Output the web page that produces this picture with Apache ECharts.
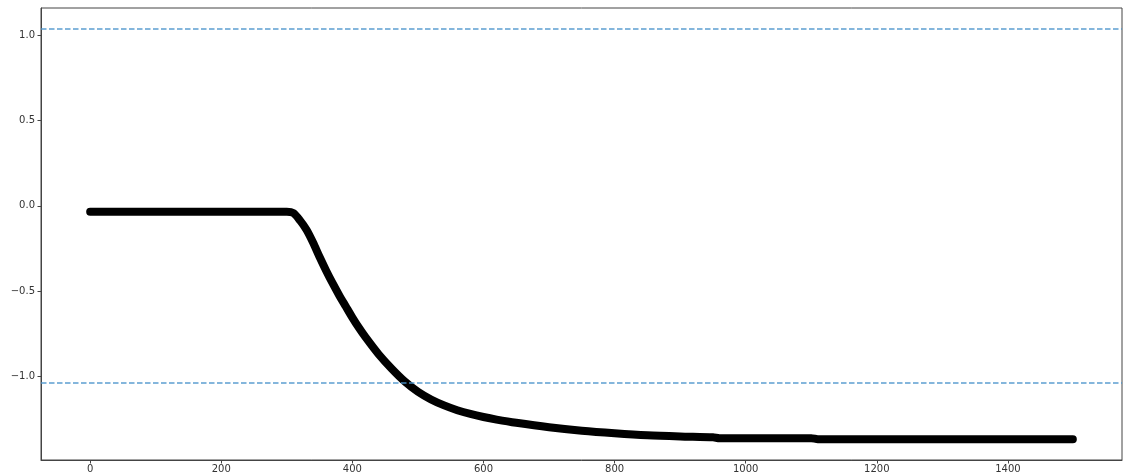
<!DOCTYPE html>
<html>
<head>
<meta charset="utf-8">
<script src="https://cdn.jsdelivr.net/npm/echarts@6/dist/echarts.min.js"></script>
<style>
  html, body { margin: 0; padding: 0; background: #ffffff; }
  #chart { width: 1126px; height: 476px; }
</style>
</head>
<body>
<div id="chart"></div>
<script>
// Response curve: step position vs. measured value
const stepPositions = [0, 100, 200, 300, 310, 320, 330, 340, 350, 360, 370, 380, 390, 400, 410, 420, 440, 460, 480, 500, 520, 540, 560, 580, 600, 620, 650, 700, 750, 800, 850, 900, 950, 960, 1100, 1110, 1300, 1499];
const responseValues = [-0.034, -0.034, -0.034, -0.034, -0.042, -0.085, -0.14, -0.215, -0.30, -0.38, -0.455, -0.525, -0.59, -0.655, -0.715, -0.77, -0.87, -0.955, -1.03, -1.09, -1.135, -1.17, -1.198, -1.22, -1.238, -1.253, -1.272, -1.298, -1.318, -1.333, -1.345, -1.352, -1.357, -1.362, -1.362, -1.368, -1.368, -1.368];

// Upper and lower threshold levels (dashed)
const thresholds = [1.04, -1.04];

// Tick labels
const xTicks = [0, 200, 400, 600, 800, 1000, 1200, 1400];
const yTicks = [-1.0, -0.5, 0.0, 0.5, 1.0];

const points = stepPositions.map((x, i) => [x, responseValues[i]]);

const chart = echarts.init(document.getElementById('chart'), null, { renderer: 'canvas' });

const axisFont = { fontFamily: 'DejaVu Sans', fontSize: 10, color: '#333333' };

chart.setOption({
  animation: false,
  backgroundColor: '#ffffff',
  grid: {
    left: 41, right: 4, top: 8, bottom: 16,
    show: true, borderColor: '#444444', borderWidth: 1, backgroundColor: 'transparent'
  },
  xAxis: {
    type: 'value',
    min: -75, max: 1574,
    splitLine: { show: false },
    axisLine: { show: true, onZero: false, lineStyle: { color: '#444444', width: 1 } },
    axisTick: { show: true, length: 3.5, customValues: xTicks, lineStyle: { color: '#444444' } },
    axisLabel: Object.assign({ margin: 4, customValues: xTicks, formatter: v => String(v) }, axisFont)
  },
  yAxis: {
    type: 'value',
    min: -1.49, max: 1.16,
    splitLine: { show: false },
    axisLine: { show: true, onZero: false, lineStyle: { color: '#444444', width: 1 } },
    axisTick: { show: true, length: 3.5, customValues: yTicks, lineStyle: { color: '#444444' } },
    axisLabel: Object.assign({
      margin: 6, customValues: yTicks,
      formatter: v => v.toFixed(1).replace('-', '\u2212')
    }, axisFont)
  },
  series: [{
    type: 'line',
    data: points,
    showSymbol: false,
    smooth: 0.25,
    lineStyle: { color: '#000000', width: 8, cap: 'round', join: 'round' },
    markLine: {
      silent: true,
      symbol: ['none', 'none'],
      label: { show: false },
      lineStyle: { color: '#4a93cc', width: 1.5, type: [5.5, 2.5], opacity: 0.9 },
      data: thresholds.map(t => ({ yAxis: t }))
    },
    z: 2
  }]
});
</script>
</body>
</html>
